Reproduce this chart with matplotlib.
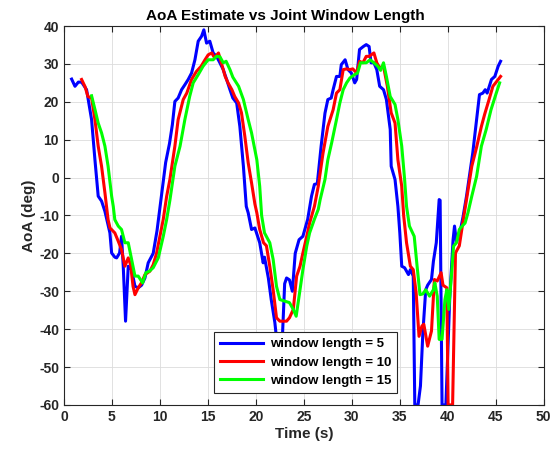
import matplotlib
matplotlib.use("Agg")
import matplotlib.pyplot as plt

# window length = 5
t5 = [0.8, 1.15, 1.5, 1.84, 2.36, 2.88, 3.23, 3.57, 3.92, 4.27, 4.79, 4.97, 5.3, 5.49, 5.8, 6.0,
      6.18, 6.42, 6.7, 7.05, 7.4, 7.74, 8.09, 8.44, 8.78, 9.3, 9.7, 10.0, 10.3, 10.6, 11.0, 11.3,
      11.56, 11.9, 12.26, 12.6, 12.95, 13.3, 13.65, 13.99, 14.34, 14.58, 14.86, 15.2, 15.55, 15.9,
      16.25, 16.6, 16.95, 17.3, 17.6, 18.0, 18.33, 18.7, 19.0, 19.2, 19.55, 19.9, 20.4, 20.76, 20.9,
      21.3, 21.6, 21.98, 22.3, 22.7, 23.0, 23.2, 23.5, 23.8, 24.1, 24.5, 24.9, 25.4, 25.8, 26.1,
      26.4, 26.8, 27.2, 27.5, 27.85, 28.05, 28.4, 28.75, 28.9, 29.3, 29.6, 29.95, 30.3, 30.5, 30.8,
      31.2, 31.5, 31.8, 32.0, 32.3, 32.6, 32.9, 33.3, 33.6, 34.0, 34.1, 34.5, 34.8, 35.0, 35.2,
      35.5, 35.9, 36.1, 36.4, 36.56, 36.9, 37.15, 37.4, 37.7, 37.9, 38.3, 38.5, 38.8, 39.1, 39.2,
      39.4, 39.8, 40.2, 40.55, 40.7, 40.9, 41.2, 41.4, 41.6, 41.95, 42.3, 42.6, 43.0, 43.3, 43.65,
      43.9, 44.1, 44.55, 44.9, 45.25, 45.5]
aoa5 = [26, 24.1, 25.2, 25.2, 23.2, 15.3, 4.7, -4.9, -6.2, -8.9, -14.6, -19.9, -21, -21.2, -19.9, -15.5,
        -23.4, -37.9, -23.4, -24.3, -28.7, -29.1, -28.4, -26.5, -22.5, -20, -14, -8, -2, 4, 9, 14,
        20.1, 21, 23.2, 24.5, 25.9, 27.6, 31.1, 36, 37.3, 39, 35.5, 36, 32.9, 32,
        30.3, 28.5, 25.9, 23.2, 21, 19.7, 13.5, 3, -7.6, -9.3, -13.7, -13.3, -17.2, -22.5, -21,
        -26.5, -32.2, -38.3, -46, -46, -28, -26.5, -27, -30, -20, -16.4, -15.5, -11, -4.9, -1.8,
        -1.6, 8.3, 17, 20.6, 21, 23.2, 26.7, 26.7, 29.8, 31.1, 28.5, 27.6, 25, 25.9, 33.8,
        34.6, 35.1, 34.6, 30.3, 30.3, 28.5, 24.1, 23.2, 20.6, 12.7, 3, -0.5, -7.6, -14.6, -23.4,
        -23.8, -25.6, -24.3, -26, -60, -60, -55, -41, -29.6, -28.4, -26.9, -22.1, -17.2, -5.8, -6,
        -60, -60, -32, -16.4, -12.8, -17, -14.6, -12.8, -10.2, -4.9, 1.2, 6.5, 15.3, 21.9, 22.3,
        23.2, 22.3, 25.9, 26.7, 29.4, 30.7]

# window length = 10
t10 = [1.84, 2.2, 2.5, 2.88, 3.23, 3.57, 3.92, 4.27, 4.6, 4.8, 5.3, 5.66, 6.0, 6.35, 6.7, 6.95,
       7.2, 7.4, 7.74, 8.1, 8.44, 8.96, 9.3, 9.65, 10.0, 10.35, 10.7, 11.04, 11.56, 11.9, 12.43,
       12.8, 13.3, 13.8, 14.3, 14.7, 15.03, 15.4, 15.7, 16.1, 16.4, 16.8, 17.1, 17.5, 17.8, 18.2,
       18.5, 18.85, 19.2, 19.55, 19.9, 20.1, 20.4, 20.8, 21.1, 21.45, 21.8, 22.15, 22.5, 23.2, 23.5,
       23.9, 24.25, 24.6, 24.9, 25.3, 25.6, 26.1, 26.5, 27.0, 27.5, 28.05, 28.4, 28.75, 29.1, 29.45,
       29.8, 30.1, 30.5, 30.8, 31.15, 31.5, 31.8, 32.3, 32.6, 32.9, 33.3, 33.7, 34.1, 34.5, 34.8,
       35.2, 35.4, 35.7, 36.1, 36.4, 36.7, 37.0, 37.3, 37.5, 37.9, 38.3, 38.6, 38.9, 39.3, 39.5,
       39.9, 40.03, 40.5, 40.8, 41.2, 41.67, 41.95, 42.5, 43.0, 43.5, 43.85, 44.3, 44.7, 45.1, 45.5]
aoa10 = [25.9, 24, 21.4, 21, 15.3, 8.3, 3, -4, -11.1, -13.3, -14.6, -16.8, -19, -23.4, -21.2, -23,
         -28.7, -30.9, -29.1, -27.7, -25.6, -24.7, -23, -20, -15.5, -11, -5, -0.5, 8.3, 15.3, 20.6,
         22.3, 25.9, 28, 29.4, 31.1, 32.4, 32.9, 31.6, 32.9, 30.3, 26.7, 25, 23.2, 21.4, 19.7,
         17.1, 10.9, 3.9, -1.4, -7, -9.3, -13.7, -17.2, -18, -23.4, -29.6, -37, -37.9, -37.9, -37,
         -34.8, -26, -23.4, -19.9, -15.5, -12, -7.6, -2.3, 6.5, 13.5, 17.9, 22.3, 23.2, 28.5, 28.7,
         28.5, 28.7, 27.6, 30.7, 30.3, 32, 32, 32.9, 30.3, 29, 29.4, 24.1, 17.1, 14.4, 4.7,
         -2.3, -10, -17.2, -23.4, -24.3, -30.4, -41.9, -39.2, -38.7, -44.5, -40.5, -26.9, -27.3, -25.1, -28.4,
         -29.1, -60, -60, -19.9, -18, -10.2, -5.8, 3, 8, 13.5, 16.8, 20.6, 24.1, 25.4, 26.7]

# window length = 15
t15 = [2.88, 3.23, 3.57, 3.92, 4.27, 4.6, 4.97, 5.14, 5.3, 5.66, 6.0, 6.35, 6.7, 7.05, 7.4, 7.74,
       8.2, 8.54, 8.9, 9.3, 9.83, 10.35, 10.7, 11.04, 11.56, 12.1, 12.6, 13.1, 13.47, 14.0, 14.5,
       15.03, 15.55, 15.9, 16.25, 16.6, 16.9, 17.3, 17.6, 18.2, 18.7, 19.2, 19.55, 20.1, 20.4, 20.6,
       20.9, 21.45, 21.8, 22.15, 22.5, 23.0, 23.5, 23.9, 24.2, 24.6, 24.9, 25.3, 25.6, 26.1, 26.5,
       26.7, 27.2, 27.5, 27.9, 28.4, 28.75, 29.1, 29.45, 29.8, 30.3, 30.6, 30.9, 31.5, 31.9, 32.3,
       32.7, 33.0, 33.3, 33.6, 34.0, 34.5, 34.8, 35.2, 35.5, 35.7, 36.0, 36.5, 36.8, 37.1, 37.4,
       37.7, 38.1, 38.5, 38.65, 38.9, 39.1, 39.4, 39.7, 39.9, 40.1, 40.4, 40.6, 40.9, 41.2, 41.5,
       41.8, 42.1, 42.5, 43.0, 43.5, 44.0, 44.5, 45.05, 45.4]
aoa15 = [21.6, 18, 14.4, 11.8, 8.3, 3, -4.9, -7.6, -11.1, -12.8, -13.7, -17.2, -17.2, -21.6, -26, -26,
         -27.8, -25.1, -24.7, -23.8, -21.2, -15.5, -11.1, -6, 3, 8.3, 15.3, 21.4, 25, 27.2, 29.4,
         31.1, 31.1, 32, 31.9, 30.3, 30.7, 28.5, 26.5, 24.1, 20.6, 15.3, 11.8, 4.7, -2.3, -10,
         -14.6, -17.2, -21.6, -28.7, -32.2, -32.6, -33, -34.8, -36.6, -29.6, -24.3, -18.1, -14.6, -11, -8.4,
         -5.8, -0.5, 4.7, 9.2, 15.3, 19.7, 23.2, 25, 26.3, 27.2, 27.6, 30.3, 30.3, 31.1, 30.3,
         29.4, 28.3, 30.3, 26.7, 21.4, 19.3, 15.3, 8.3, -0.5, -7.6, -12.8, -15.5, -23.4, -30.9, -30.7,
         -29.6, -31.3, -29.6, -27.8, -31.3, -42.7, -42.7, -32.2, -29.6, -34.8, -25.1, -18.1, -17.2, -13.7, -12.8,
         -12, -9.3, -4.9, 0.3, 8.3, 12.7, 17.9, 22.3, 25]

plt.rcParams["font.family"] = ["Liberation Sans", "DejaVu Sans"]
plt.rcParams["font.weight"] = "bold"
plt.rcParams["axes.unicode_minus"] = False

fig = plt.figure(figsize=(5.56, 4.57), dpi=100)
ax = fig.add_axes([0.115, 0.114, 0.863, 0.829])

ax.plot(t5, aoa5, color=(0, 0, 1), lw=2.2, label="window length = 5")
ax.plot(t10, aoa10, color=(1, 0, 0), lw=2.2, label="window length = 10")
ax.plot(t15, aoa15, color=(0, 1, 0), lw=2.2, label="window length = 15")

ax.set_xlim(0, 50)
ax.set_ylim(-60, 40)
ax.set_xticks(range(0, 51, 5))
ax.set_yticks(range(-60, 41, 10))
ax.grid(True, color="#dcdcdc", lw=0.6)
ax.set_axisbelow(True)
ax.tick_params(direction="in", top=True, right=True, labelsize=10, colors="#262626", length=4)
for s in ax.spines.values():
    s.set_color("#262626")
    s.set_linewidth(0.8)

ax.set_title("AoA Estimate vs Joint Window Length", fontsize=11, fontweight="bold", pad=4, x=0.462)
ax.set_xlabel("Time (s)", fontsize=11, fontweight="bold", color="#262626", labelpad=2)
ax.set_ylabel("AoA (deg)", fontsize=11, fontweight="bold", color="#262626", labelpad=2)

leg = ax.legend(loc="lower left", bbox_to_anchor=(0.3125, 0.032), borderaxespad=0, fontsize=9.5,
                fancybox=False, framealpha=1, edgecolor="#262626", handlelength=3.3, borderpad=0.45,
                labelspacing=0.45, handletextpad=0.5)
leg.get_frame().set_linewidth(0.8)

fig.savefig("out.png", dpi=100)
